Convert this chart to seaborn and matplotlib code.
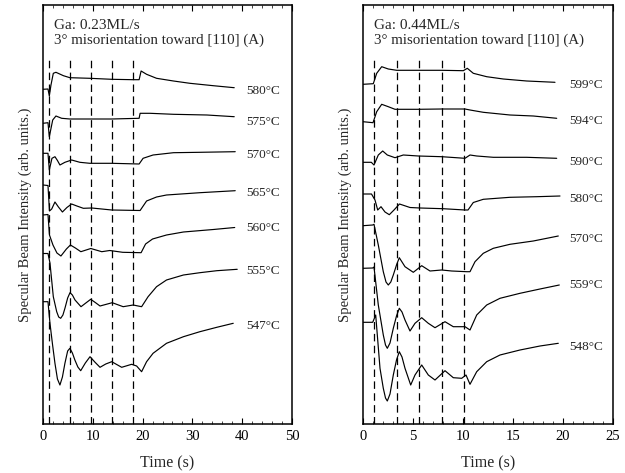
import matplotlib
matplotlib.use("Agg")
import matplotlib.pyplot as plt
import seaborn as sns
import pandas as pd
from matplotlib.ticker import MultipleLocator

# ---------------- data (arbitrary intensity units) ----------------
# Left panel: Ga 0.23 ML/s
left_temps = ["580°C", "575°C", "570°C", "565°C", "560°C", "555°C", "547°C"]
left_label_y = [333, 302, 269, 231, 196, 153, 98]

t580L = [0, 1.0, 1.27, 1.6, 2.07, 2.6, 4.1, 5.4, 9.4, 13.8, 18.1, 19.3, 19.7, 20.8, 22.8, 26.2, 29.5, 34.2, 38.4]
v580L = [334.7, 335, 328, 339, 350.7, 351.7, 348.3, 346.3, 345.7, 344.7, 344.3, 344.3, 353, 349.7, 345.7, 343, 340.7, 338.3, 336.3]

t575L = [0, 1.0, 1.27, 1.95, 2.6, 3.75, 5.4, 9.4, 13.8, 19.3, 19.5, 21.5, 26.2, 32.9, 38.4]
v575L = [300.7, 301.3, 287.3, 304, 308, 305.7, 305, 305, 305, 305.7, 310.7, 310.7, 309.7, 309, 307.3]

t570L = [0, 1.0, 1.27, 1.8, 2.4, 2.9, 3.4, 4.4, 5.75, 7.4, 9.4, 13.8, 19.3, 20.1, 22.1, 26.2, 31.5, 38.6]
v570L = [270.7, 270.7, 254, 265.7, 267.3, 263.5, 259, 261.7, 264, 261.7, 260.7, 260.7, 260, 265.7, 269, 271.3, 271.7, 272.3]

t565L = [0, 1.0, 1.3, 1.75, 2.4, 3.1, 3.9, 4.8, 5.75, 6.8, 8.1, 9.8, 13.8, 19.5, 20.8, 22.8, 24.8, 31.5, 38.6]
v565L = [239, 238.5, 213, 215, 222, 217, 212, 216.5, 220, 218, 215.7, 216, 214, 213.5, 223, 227, 229, 231.3, 233.3]

t560L = [0, 1.0, 1.3, 2.0, 2.8, 3.6, 4.7, 5.5, 6.5, 7.6, 9.6, 11.8, 13.4, 16.0, 19.7, 20.6, 22.0, 24.8, 28.2, 34.2, 38.5]
v560L = [209, 209.5, 189, 179, 171, 168, 175, 179, 176, 172.3, 175.5, 172.3, 173.5, 171.7, 171.3, 180, 185, 189, 192, 194.5, 196.5]

t555L = [0, 1.0, 1.4, 2.07, 2.75, 3.15, 3.55, 4.0, 4.42, 4.95, 5.42, 5.9, 6.43, 7.63, 8.6, 9.58, 10.5, 11.45, 13.9, 16.1, 18.1, 19.8, 21.1, 22.8, 24.8, 28.2, 31.5, 34.9, 39.0]
v555L = [170.5, 170.5, 161, 127.3, 112.3, 107, 105.7, 109, 116, 126, 131.3, 129, 124, 117.3, 121, 124.7, 121.5, 118, 121.3, 117.3, 119, 117.3, 127.3, 137.3, 144, 149, 151.3, 153.3, 154.7]

t547L = [0, 1.0, 1.4, 1.9, 2.4, 2.9, 3.4, 3.9, 4.4, 4.95, 5.4, 5.9, 6.4, 7.0, 7.57, 8.5, 9.44, 10.4, 11.45, 12.6, 13.8, 15.8, 17.8, 18.8, 19.8, 20.8, 22.1, 24.8, 28.2, 31.5, 34.9, 38.2]
v547L = [122.3, 122.3, 100.7, 80, 60.7, 45, 39, 47, 60.7, 73, 75.7, 71, 64, 57, 53.3, 61, 67.3, 62, 56.7, 60, 62.3, 56.7, 59.7, 58, 52.3, 62.3, 70.7, 80.7, 87.3, 92.3, 96.7, 100.7]

left_dashes = [1.2, 5.4, 9.65, 13.9, 18.1]

# Right panel: Ga 0.44 ML/s
right_temps = ["599°C", "594°C", "590°C", "580°C", "570°C", "559°C", "548°C"]
right_label_y = [339, 303, 262, 225, 185, 139, 77]

t599R = [0, 1.03, 1.37, 1.87, 2.53, 3.37, 5.53, 7.87, 10.03, 10.43, 11.03, 12.37, 14.03, 16.37, 19.2]
v599R = [339.7, 340.3, 350.7, 357.3, 355, 353.7, 353.7, 353.7, 353.3, 355.7, 350.7, 347.3, 345, 343, 341.7]

t594R = [0, 1.0, 1.37, 1.87, 2.53, 3.2, 5.53, 7.87, 10.2, 10.7, 12.03, 14.7, 17.03, 19.37]
v594R = [302.3, 301.3, 312.3, 319.7, 317.3, 314.7, 314.7, 315, 315, 314, 311.7, 309, 308, 305.7]

t590R = [0, 0.83, 1.1, 1.53, 1.97, 2.43, 3.2, 4.03, 5.53, 7.87, 10.2, 10.7, 11.37, 13.03, 16.37, 19.37]
v590R = [261.7, 261.7, 259, 269, 273, 269, 266.3, 269, 268, 267.3, 265.7, 269, 268, 266.7, 266.7, 265.7]

t580R = [0, 0.85, 1.2, 1.47, 1.8, 2.2, 2.63, 3.1, 3.65, 4.7, 5.7, 8.0, 10.2, 10.5, 11.03, 12.03, 14.7, 17.37, 19.7]
v580R = [230, 230, 224, 214, 217.3, 212, 209.3, 214, 220, 216.5, 216, 215.3, 214, 214, 221.5, 224.7, 226.7, 227.3, 228]

t570R = [0, 0.97, 1.1, 1.53, 2.03, 2.3, 2.53, 2.78, 3.03, 3.35, 3.63, 4.2, 5.03, 5.87, 6.7, 7.87, 8.87, 10.37, 10.7, 11.2, 12.03, 13.03, 14.7, 17.03, 19.53]
v570R = [198.3, 199, 199.7, 179, 152.3, 142, 139, 142, 149, 159, 166.3, 157.3, 151.7, 158.3, 153, 154, 153, 152.3, 152.3, 162.3, 170.7, 175.7, 179.7, 183, 188]

t559R = [0, 0.97, 1.1, 1.53, 2.03, 2.25, 2.43, 2.7, 3.03, 3.35, 3.63, 3.9, 4.2, 4.7, 5.2, 5.87, 6.53, 7.2, 8.2, 9.03, 10.2, 10.7, 11.37, 12.37, 13.7, 15.7, 17.7, 19.63]
v559R = [155.7, 156, 157, 119, 89, 79, 75.7, 81, 95.7, 108, 115.7, 112, 104, 93, 100.7, 106.3, 100.7, 96.3, 102.3, 97.3, 97.3, 94, 109, 119, 125.7, 130.7, 135, 139]

t548R = [0, 0.97, 1.27, 1.7, 2.03, 2.25, 2.43, 2.7, 3.03, 3.35, 3.63, 3.9, 4.2, 4.77, 5.2, 5.87, 6.53, 7.2, 8.2, 9.03, 9.87, 10.3, 10.7, 11.37, 12.37, 13.7, 15.7, 17.7, 19.53]
v548R = [101.7, 101.7, 109, 55.7, 35.7, 26, 23, 30, 49, 64, 72.3, 67, 55.7, 39, 49, 59, 49, 44, 53.3, 46.3, 45.7, 49, 39.7, 52.3, 62.3, 69, 74, 78, 80.7]

right_dashes = [1.1, 3.35, 5.6, 7.85, 10.1]

left_traces = [(t580L, v580L), (t575L, v575L), (t570L, v570L), (t565L, v565L),
               (t560L, v560L), (t555L, v555L), (t547L, v547L)]
right_traces = [(t599R, v599R), (t594R, v594R), (t590R, v590R), (t580R, v580R),
                (t570R, v570R), (t559R, v559R), (t548R, v548R)]

# ---------------- plotting ----------------
sns.set_theme(style="white")
plt.rcParams['font.family'] = ['Liberation Serif', 'DejaVu Serif']

fig = plt.figure(figsize=(6.25, 4.73), dpi=100)
axL = fig.add_axes([43/625, 49/473, 249/625, 419/473])
axR = fig.add_axes([363/625, 49/473, 250/625, 419/473])


def draw(ax, traces, temps, label_y, dashes, xmax, major, minor, label_x, title1):
    for (t, v), name in zip(traces, temps):
        df = pd.DataFrame({"t": t, "v": v})
        sns.lineplot(data=df, x="t", y="v", ax=ax, color="black", linewidth=0.85,
                     estimator=None, sort=False)
    for d in dashes:
        ax.vlines(d, 0, 366, colors="black", linewidth=0.9, linestyles=(0, (6, 3.5)))
    for name, y in zip(temps, label_y):
        ax.text(label_x, y, name, fontsize=9.5, va="center", ha="left")
    ax.text(0.045, 0.952, title1, transform=ax.transAxes, fontsize=11, va="center")
    ax.text(0.045, 0.916, "3° misorientation toward [110] (A)", transform=ax.transAxes,
            fontsize=10.8, va="center")
    ax.set_xlim(0, xmax)
    ax.set_ylim(0, 419)
    ax.set_yticks([])
    ax.xaxis.set_major_locator(MultipleLocator(major))
    ax.xaxis.set_minor_locator(MultipleLocator(minor))
    ax.tick_params(axis="x", which="major", direction="in", length=4, width=0.8,
                   bottom=True, top=True, labelsize=10.5, pad=4, colors="black")
    ax.tick_params(axis="x", which="minor", direction="in", length=2, width=0.6,
                   bottom=True, top=True)
    ax.set_xlabel("Time (s)", fontsize=11.5, labelpad=9)
    ax.set_ylabel("Specular Beam Intensity (arb. units.)", fontsize=10.5, labelpad=8)
    for s in ax.spines.values():
        s.set_color("black")
        s.set_linewidth(1.1)


draw(axL, left_traces, left_temps, left_label_y, left_dashes, 50, 10, 2, 40.8, "Ga: 0.23ML/s")
draw(axR, right_traces, right_temps, right_label_y, right_dashes, 25, 5, 1, 20.6, "Ga: 0.44ML/s")

fig.savefig("out.png", dpi=100, facecolor="white")
